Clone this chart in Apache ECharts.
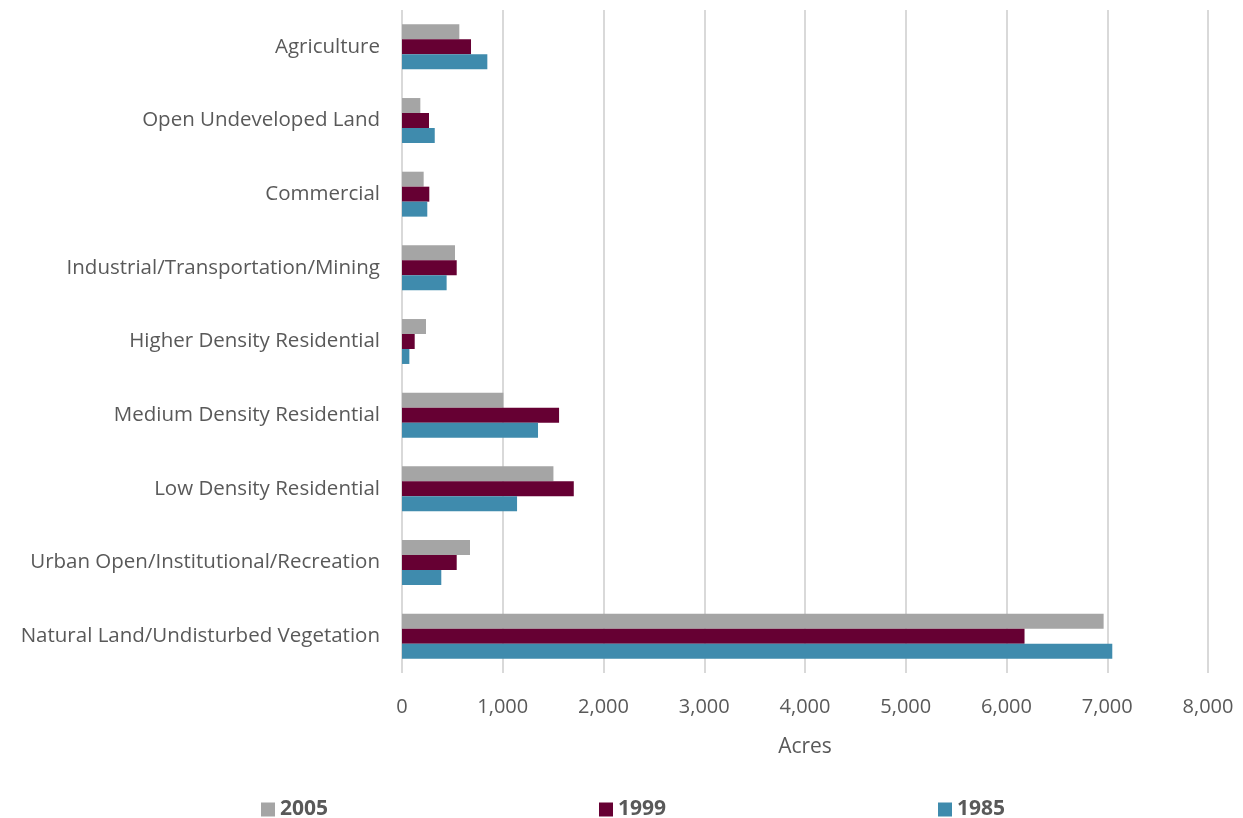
<!DOCTYPE html>
<html>
<head>
<meta charset="utf-8">
<script src="https://cdn.jsdelivr.net/npm/echarts@6/dist/echarts.min.js"></script>
<style>
  html, body { margin: 0; padding: 0; background: #fff; }
  #chart { width: 1243px; height: 818px; }
</style>
</head>
<body>
<div id="chart"></div>
<script>
// categories, top to bottom
const categories = [
  'Agriculture',
  'Open Undeveloped Land',
  'Commercial',
  'Industrial/Transportation/Mining',
  'Higher Density Residential',
  'Medium Density Residential',
  'Low Density Residential',
  'Urban Open/Institutional/Recreation',
  'Natural Land/Undisturbed Vegetation'
];
const acres2005 = [569, 182, 215, 526, 238, 1006, 1503, 675, 6964];
const acres1999 = [685, 268, 271, 543, 126, 1559, 1705, 543, 6179];
const acres1985 = [847, 325, 251, 443, 73, 1350, 1142, 390, 7050];

const colors = { '2005': '#A5A5A5', '1999': '#660033', '1985': '#3F8BAD' };
const textColor = '#595959';
const font = '"Open Sans", sans-serif';

let chart = echarts.init(document.getElementById('chart'));

function legendFor(name, left) {
  return {
    data: [name],
    left: left,
    top: 794,
    icon: 'rect',
    itemWidth: 14,
    itemHeight: 14,
    itemGap: 0,
    textStyle: { color: textColor, fontFamily: font, fontSize: 21, fontWeight: 'bold' }
  };
}

chart.setOption({
  animation: false,
  color: [colors['2005'], colors['1999'], colors['1985']],
  grid: { left: 402, right: 35, top: 10, bottom: 145, containLabel: false },
  legend: [
    legendFor('2005', 256),
    legendFor('1999', 594),
    legendFor('1985', 933)
  ],
  xAxis: {
    type: 'value',
    min: 0,
    max: 8000,
    interval: 1000,
    name: 'Acres',
    nameLocation: 'middle',
    nameGap: 64,
    nameTextStyle: { color: textColor, fontFamily: font, fontSize: 21 },
    axisLine: { show: false },
    axisTick: { show: false },
    axisLabel: {
      color: textColor, fontFamily: font, fontSize: 20, margin: 24,
      formatter: v => v.toLocaleString('en-US')
    },
    splitLine: { show: true, lineStyle: { color: '#D9D9D9', width: 2 } }
  },
  yAxis: {
    type: 'category',
    inverse: true,
    data: categories,
    axisLine: { show: false },
    axisTick: { show: false },
    axisLabel: { color: textColor, fontFamily: font, fontSize: 20.5, margin: 22 }
  },
  series: [
    { name: '2005', type: 'bar', data: acres2005, barGap: '0%', barCategoryGap: '39%' },
    { name: '1999', type: 'bar', data: acres1999, barGap: '0%', barCategoryGap: '39%' },
    { name: '1985', type: 'bar', data: acres1985, barGap: '0%', barCategoryGap: '39%' }
  ]
});
</script>
</body>
</html>
